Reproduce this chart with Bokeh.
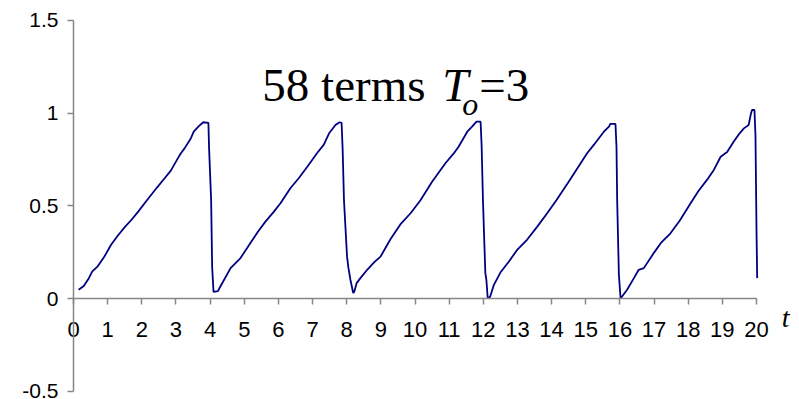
from bokeh.plotting import figure
from bokeh.models import FixedTicker, Label, Range1d, CustomJSTickFormatter
from bokeh.embed import file_html
from bokeh.resources import INLINE

# Partial Fourier sum (58 terms) of the sawtooth, sampled along t
t_vals = [0.15, 0.3, 0.45, 0.55, 0.7, 0.9, 1.1, 1.3, 1.5, 1.7,
          1.9, 2.15, 2.45, 2.65, 2.85, 3.05, 3.13, 3.25, 3.43, 3.52,
          3.67, 3.8, 3.95, 3.97, 4.03, 4.06, 4.1, 4.23, 4.3, 4.6,
          4.89, 5.18, 5.4, 5.62, 5.85, 6.06, 6.35, 6.6, 6.84, 7.13,
          7.33, 7.48, 7.67, 7.79, 7.85, 7.88, 7.92, 8.01, 8.05, 8.11,
          8.19, 8.22, 8.29, 8.4, 8.6, 8.8, 8.99, 9.28, 9.57, 9.87,
          10.16, 10.5, 10.89, 11.14, 11.28, 11.53, 11.67, 11.8, 11.92, 11.95,
          11.99, 12.03, 12.06, 12.09, 12.13, 12.2, 12.31, 12.5, 12.75, 12.99,
          13.28, 13.58, 13.87, 14.14, 14.5, 14.85, 15.04, 15.24, 15.53, 15.68,
          15.72, 15.87, 15.9, 15.92, 15.97, 16.02, 16.21, 16.41, 16.55, 16.7,
          16.99, 17.2, 17.48, 17.75, 18.07, 18.3, 18.55, 18.75, 18.95, 19.14,
          19.33, 19.5, 19.63, 19.77, 19.84, 19.87, 19.94, 19.97, 20.0, 20.02]

f_vals = [0.047, 0.068, 0.11, 0.146, 0.172, 0.225, 0.29, 0.34, 0.385, 0.425,
          0.47, 0.53, 0.60, 0.645, 0.69, 0.755, 0.78, 0.81, 0.862, 0.90,
          0.93, 0.951, 0.948, 0.81, 0.53, 0.17, 0.036, 0.04, 0.065, 0.164,
          0.218, 0.30, 0.36, 0.415, 0.465, 0.514, 0.595, 0.65, 0.71, 0.784,
          0.83, 0.89, 0.936, 0.951, 0.948, 0.81, 0.53, 0.226, 0.165, 0.10,
          0.03, 0.036, 0.083, 0.11, 0.155, 0.195, 0.226, 0.32, 0.40, 0.46,
          0.53, 0.63, 0.73, 0.784, 0.82, 0.90, 0.927, 0.954, 0.954, 0.83,
          0.53, 0.30, 0.137, 0.10, 0.0, 0.01, 0.074, 0.14, 0.20, 0.262,
          0.317, 0.388, 0.46, 0.53, 0.63, 0.73, 0.784, 0.83, 0.90, 0.927,
          0.942, 0.942, 0.82, 0.53, 0.128, 0.0, 0.047, 0.11, 0.155, 0.164,
          0.245, 0.30, 0.352, 0.42, 0.514, 0.58, 0.64, 0.694, 0.765, 0.79,
          0.846, 0.89, 0.918, 0.936, 1.0, 1.017, 1.017, 0.88, 0.37, 0.11]

x_ticks = list(range(0, 21))
y_ticks = [-0.5, 0, 0.5, 1, 1.5]
t_lo, t_hi = 0, 20
f_lo, f_hi = -0.5, 1.5

AXIS_GRAY = "#868686"
CURVE = "#000080"
SANS = "Liberation Sans"
SERIF = "Liberation Serif"

# the frame fills the canvas; both axes are pinned inside it
p = figure(width=799, height=399, output_backend="svg", toolbar_location=None,
           x_range=Range1d(-2.138, 21.259), y_range=Range1d(-0.5448, 1.6079),
           min_border_left=0, min_border_right=0,
           min_border_top=0, min_border_bottom=0)

p.line(t_vals, f_vals, line_color=CURVE, line_width=1.8)

p.xgrid.visible = False
p.ygrid.visible = False
p.outline_line_color = None
p.background_fill_color = "white"
p.border_fill_color = "white"

# horizontal axis runs through f = 0
xa = p.xaxis[0]
xa.fixed_location = 0
xa.bounds = (t_lo, t_hi)
xa.ticker = FixedTicker(ticks=x_ticks)
xa.axis_line_color = AXIS_GRAY
xa.axis_line_width = 1.5
xa.major_tick_line_color = AXIS_GRAY
xa.major_tick_line_width = 1.5
xa.major_tick_out = 6
xa.major_tick_in = 0
xa.minor_tick_line_color = None
xa.major_label_text_font = SANS
xa.major_label_text_font_size = "22px"
xa.major_label_text_color = "black"
xa.major_label_standoff = 17

# vertical axis runs through t = 0
ya = p.yaxis[0]
ya.fixed_location = 0
ya.bounds = (f_lo, f_hi)
ya.ticker = FixedTicker(ticks=y_ticks)
ya.formatter = CustomJSTickFormatter(code="return tick.toString()")
ya.axis_line_color = AXIS_GRAY
ya.axis_line_width = 1.5
ya.major_tick_line_color = AXIS_GRAY
ya.major_tick_line_width = 1.5
ya.major_tick_out = 6
ya.major_tick_in = 0
ya.minor_tick_line_color = None
ya.major_label_text_font = SANS
ya.major_label_text_font_size = "21px"
ya.major_label_text_color = "black"
ya.major_label_standoff = 9

# title "58 terms T_o=3" built from pieces so the subscript sits lower
title_parts = [
    dict(text="58 terms", x=5.53, y=1.153, style="normal", size="47px"),
    dict(text="T", x=10.8, y=1.153, style="italic", size="47px"),
    dict(text="o", x=11.38, y=1.048, style="italic", size="32px"),
    dict(text="=3", x=11.88, y=1.153, style="normal", size="47px"),
]
for part in title_parts:
    p.add_layout(Label(x=part["x"], y=part["y"], text=part["text"],
                       text_font=SERIF, text_font_style=part["style"],
                       text_font_size=part["size"], text_color="black",
                       text_align="left", text_baseline="alphabetic"))

# axis name "t" to the right of the horizontal axis
p.add_layout(Label(x=20.74, y=-0.104, text="t", text_font=SERIF,
                   text_font_style="italic", text_font_size="28px",
                   text_color="black", text_align="left",
                   text_baseline="alphabetic"))

open("out.html", "w").write(file_html(p, INLINE))
